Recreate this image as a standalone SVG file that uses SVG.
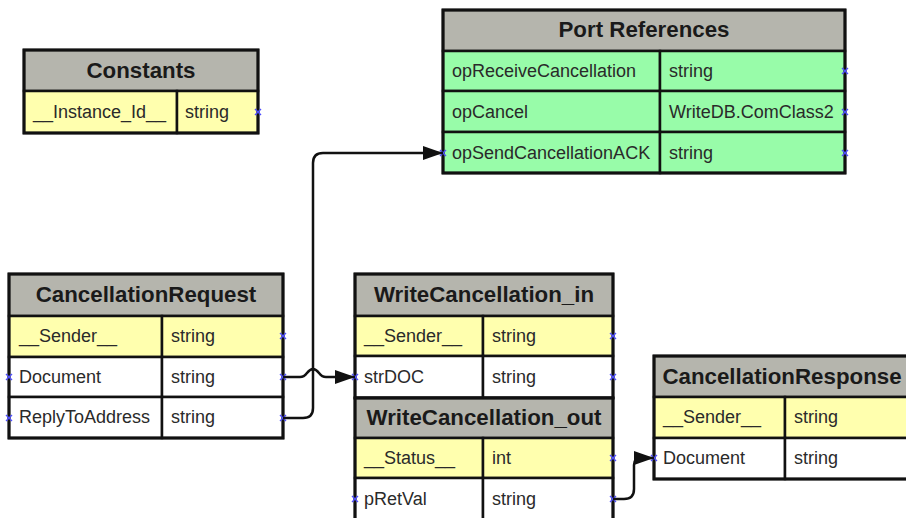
<svg xmlns="http://www.w3.org/2000/svg" width="906" height="518" viewBox="0 0 906 518">
  <defs>
    <style>
      .hdr { fill: #b5b5ad; stroke: #111; stroke-width: 2.5; }
      .key { fill: #ffffae; stroke: #111; stroke-width: 2.5; }
      .plain { fill: #ffffff; stroke: #111; stroke-width: 2.5; }
      .port { fill: #98fca9; stroke: #111; stroke-width: 2.5; }
      .frame { fill: none; stroke: #111; stroke-width: 3; }
      .title { font-family: "Liberation Sans", Arial, sans-serif; font-size: 22.3px; font-weight: bold; fill: #1a1a1a; text-anchor: middle; }
      .cell { font-family: "Liberation Sans", Arial, sans-serif; font-size: 18px; fill: #2a2a2a; }
      .pin { stroke: #4f4fff; stroke-width: 1.4; fill: none; }
      .wire { fill: none; stroke: #111; stroke-width: 2.5; }
    </style>
    <marker id="arrow" markerUnits="userSpaceOnUse" markerWidth="22" markerHeight="16" refX="20" refY="7" orient="auto">
      <path d="M0,0 L20,7 L0,14 Z" fill="#111"/>
    </marker>
    <g id="x">
      <path class="pin" d="M-3,-3 L3,3 M-3,3 L3,-3"/>
    </g>
  </defs>

  <!-- Constants -->
  <g id="constants">
    <rect class="hdr" x="24" y="50" width="234" height="41"/>
    <rect class="key" x="24" y="91" width="153" height="42"/>
    <rect class="key" x="177" y="91" width="81" height="42"/>
    <rect class="frame" x="24" y="50" width="234" height="83"/>
    <text class="title" x="141" y="78">Constants</text>
    <text class="cell" x="33" y="118">__Instance_Id__</text>
    <text class="cell" x="185" y="118">string</text>
    <use href="#x" x="258" y="112"/>
  </g>

  <!-- Port References -->
  <g id="port-references">
    <rect class="hdr" x="443" y="10" width="402" height="41"/>
    <rect class="port" x="443" y="51" width="217" height="40"/>
    <rect class="port" x="660" y="51" width="185" height="40"/>
    <rect class="port" x="443" y="91" width="217" height="41"/>
    <rect class="port" x="660" y="91" width="185" height="41"/>
    <rect class="port" x="443" y="132" width="217" height="41"/>
    <rect class="port" x="660" y="132" width="185" height="41"/>
    <rect class="frame" x="443" y="10" width="402" height="163"/>
    <text class="title" x="644" y="37">Port References</text>
    <text class="cell" x="452" y="77">opReceiveCancellation</text>
    <text class="cell" x="669" y="77">string</text>
    <text class="cell" x="452" y="118">opCancel</text>
    <text class="cell" x="669" y="118">WriteDB.ComClass2</text>
    <text class="cell" x="452" y="159">opSendCancellationACK</text>
    <text class="cell" x="669" y="159">string</text>
    <use href="#x" x="845" y="71"/>
    <use href="#x" x="845" y="112"/>
    <use href="#x" x="845" y="153"/>
    <use href="#x" x="443" y="153"/>
  </g>

  <!-- CancellationRequest -->
  <g id="cancellation-request">
    <rect class="hdr" x="9" y="274" width="274" height="42"/>
    <rect class="key" x="9" y="316" width="153" height="41"/>
    <rect class="key" x="162" y="316" width="121" height="41"/>
    <rect class="plain" x="9" y="357" width="153" height="40"/>
    <rect class="plain" x="162" y="357" width="121" height="40"/>
    <rect class="plain" x="9" y="397" width="153" height="41"/>
    <rect class="plain" x="162" y="397" width="121" height="41"/>
    <rect class="frame" x="9" y="274" width="274" height="164"/>
    <text class="title" x="146" y="302">CancellationRequest</text>
    <text class="cell" x="19" y="342">__Sender__</text>
    <text class="cell" x="171" y="342">string</text>
    <text class="cell" x="19" y="383">Document</text>
    <text class="cell" x="171" y="383">string</text>
    <text class="cell" x="19" y="423">ReplyToAddress</text>
    <text class="cell" x="171" y="423">string</text>
    <use href="#x" x="283" y="336"/>
    <use href="#x" x="283" y="377"/>
    <use href="#x" x="283" y="418"/>
    <use href="#x" x="9" y="377"/>
    <use href="#x" x="9" y="418"/>
  </g>

  <!-- WriteCancellation_in -->
  <g id="write-cancellation-in">
    <rect class="hdr" x="355" y="274" width="258" height="42"/>
    <rect class="key" x="355" y="316" width="128" height="40"/>
    <rect class="key" x="483" y="316" width="130" height="40"/>
    <rect class="plain" x="355" y="356" width="128" height="42"/>
    <rect class="plain" x="483" y="356" width="130" height="42"/>
    <rect class="frame" x="355" y="274" width="258" height="124"/>
    <text class="title" x="484" y="302">WriteCancellation_in</text>
    <text class="cell" x="364" y="342">__Sender__</text>
    <text class="cell" x="492" y="342">string</text>
    <text class="cell" x="364" y="383">strDOC</text>
    <text class="cell" x="492" y="383">string</text>
    <use href="#x" x="613" y="336"/>
    <use href="#x" x="613" y="377"/>
    <use href="#x" x="355" y="377"/>
  </g>

  <!-- WriteCancellation_out -->
  <g id="write-cancellation-out">
    <rect class="hdr" x="355" y="398" width="258" height="40"/>
    <rect class="key" x="355" y="438" width="128" height="40"/>
    <rect class="key" x="483" y="438" width="130" height="40"/>
    <rect class="plain" x="355" y="478" width="128" height="44"/>
    <rect class="plain" x="483" y="478" width="130" height="44"/>
    <rect class="frame" x="355" y="398" width="258" height="124"/>
    <text class="title" x="484" y="425">WriteCancellation_out</text>
    <text class="cell" x="364" y="464">__Status__</text>
    <text class="cell" x="492" y="464">int</text>
    <text class="cell" x="364" y="505">pRetVal</text>
    <text class="cell" x="492" y="505">string</text>
    <use href="#x" x="613" y="458"/>
    <use href="#x" x="613" y="499"/>
    <use href="#x" x="355" y="499"/>
  </g>

  <!-- CancellationResponse -->
  <g id="cancellation-response">
    <rect class="hdr" x="654" y="356" width="262" height="41"/>
    <rect class="key" x="654" y="397" width="131" height="41"/>
    <rect class="key" x="785" y="397" width="131" height="41"/>
    <rect class="plain" x="654" y="438" width="131" height="41"/>
    <rect class="plain" x="785" y="438" width="131" height="41"/>
    <rect class="frame" x="654" y="356" width="262" height="123"/>
    <text class="title" x="782" y="384">CancellationResponse</text>
    <text class="cell" x="663" y="423">__Sender__</text>
    <text class="cell" x="794" y="423">string</text>
    <text class="cell" x="663" y="464">Document</text>
    <text class="cell" x="794" y="464">string</text>
    <use href="#x" x="654" y="458"/>
  </g>

  <!-- Connectors -->
  <g id="connectors">
    <path class="wire" marker-end="url(#arrow)" d="M283,377 H300 Q304,377 307,373 Q313,365 319,373 Q322,377 326,377 H355"/>
    <path class="wire" marker-end="url(#arrow)" d="M283,418 H303 Q313,418 313,408 V163 Q313,153 323,153 H443"/>
    <path class="wire" marker-end="url(#arrow)" d="M613,499 H624 Q634,499 634,489 V465 Q634,458 641,458 H654"/>
  </g>
</svg>
